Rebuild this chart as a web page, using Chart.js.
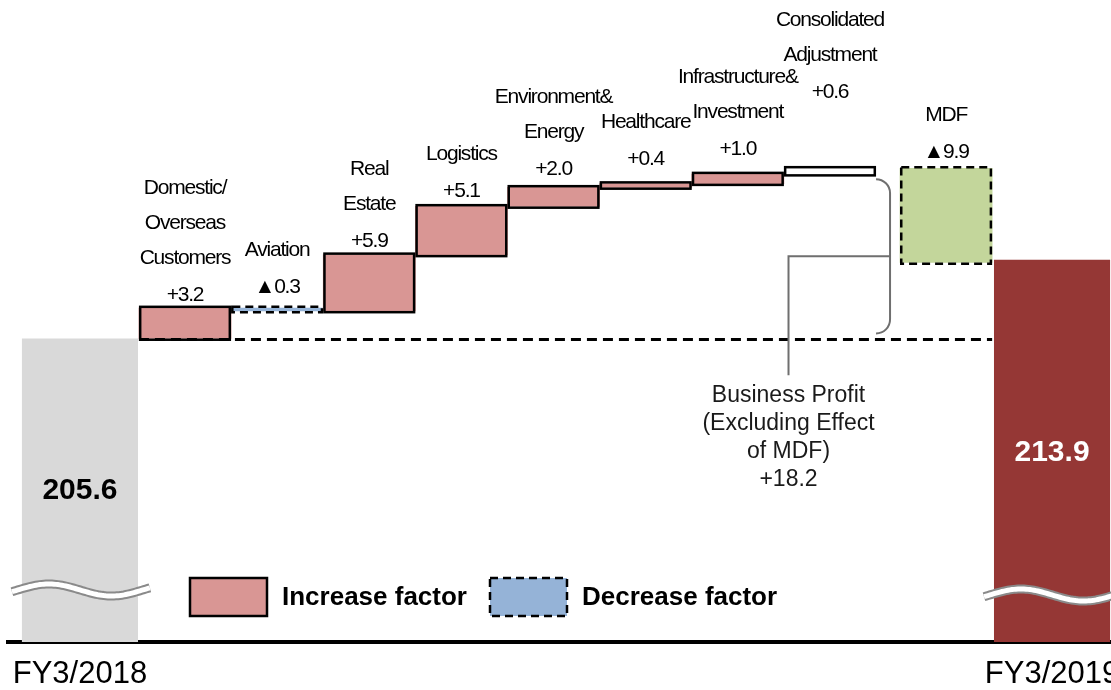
<!DOCTYPE html>
<html>
<head>
<meta charset="utf-8">
<script src="https://cdn.jsdelivr.net/npm/chart.js@4.4.1/dist/chart.umd.min.js"></script>
<style>
  html, body { margin: 0; padding: 0; background: #fff; }
  #wrap { width: 1111px; height: 690px; }
</style>
</head>
<body>
<div id="wrap"><canvas id="chart"></canvas></div>
<script>
// values
const periodLabels = ['FY3/2018', 'FY3/2019'];
const periodValues = [205.6, 213.9];
const factorNames = [
  ['Domestic/', 'Overseas', 'Customers'],
  ['Aviation'],
  ['Real', 'Estate'],
  ['Logistics'],
  ['Environment&', 'Energy'],
  ['Healthcare'],
  ['Infrastructure&', 'Investment'],
  ['Consolidated', 'Adjustment'],
  ['MDF']
];
const factorChanges = [3.2, -0.3, 5.9, 5.1, 2.0, 0.4, 1.0, 0.6, -9.9];
const subtotalLines = ['Business Profit', '(Excluding Effect', 'of MDF)'];
const subtotalChange = 18.2;
const legendLabels = ['Increase factor', 'Decrease factor'];

// layout (x in bar widths, lifts in px)
const periodX = [-0.14, 10.41];
const factorX = [1, 2, 3, 4, 5, 6, 7, 8, 9.26];
const labelLift = [13, 21, 14, 15, 18, 24, 25, 76, 16];
const FONT = '"Liberation Sans", Arial, sans-serif';

let running = periodValues[0];
const factorBars = factorChanges.map((d, i) => {
  const from = running;
  running = Math.round((running + d) * 10) / 10;
  return { x: factorX[i], y: [from, running] };
});

function fillFor(i) {
  const name = factorNames[i][0];
  if (name === 'MDF') return '#c3d69b';
  if (name === 'Consolidated') return '#ffffff';
  return factorChanges[i] < 0 ? '#95b3d7' : '#d99694';
}

function fmt(d) {
  return (d < 0 ? '\u25B2' : '+') + Math.abs(d).toFixed(1);
}

function box(el) {
  const p = el.getProps(['x', 'y', 'base', 'width'], true);
  return {
    left: p.x - p.width / 2, right: p.x + p.width / 2, cx: p.x,
    top: Math.min(p.y, p.base), bottom: Math.max(p.y, p.base)
  };
}

const overlay = {
  id: 'overlay',
  afterDatasetsDraw(chart) {
    const ctx = chart.ctx;
    const y = chart.scales.y;
    const x = chart.scales.x;
    const totals = chart.getDatasetMeta(0).data;
    const bars = chart.getDatasetMeta(1).data;
    ctx.save();

    // outlines of the factor bars: solid for increases, dashed for decreases
    ctx.strokeStyle = '#000';
    ctx.lineWidth = 2.5;
    bars.forEach((el, i) => {
      const b = box(el);
      ctx.setLineDash(factorChanges[i] < 0 ? [8, 5] : []);
      ctx.strokeRect(b.left + 1.25, b.top - 1.25, b.right - b.left - 2.5, b.bottom - b.top + 2.5);
    });

    // starting level
    const base = y.getPixelForValue(periodValues[0]);
    const first = box(bars[0]);
    const last = box(bars[bars.length - 1]);
    ctx.setLineDash([10, 6]);
    ctx.lineWidth = 3;
    ctx.beginPath();
    ctx.moveTo(first.left, base + 1);
    ctx.lineTo(last.right, base + 1);
    ctx.stroke();

    // bracket round the business factors
    const adj = box(bars[7]);
    const bx = adj.right + 14, top = adj.bottom + 5, bot = base - 5, r = 14;
    ctx.setLineDash([]);
    ctx.strokeStyle = '#6f6f6f';
    ctx.lineWidth = 2;
    ctx.beginPath();
    ctx.moveTo(adj.right, top);
    ctx.arcTo(bx, top, bx, bot, r);
    ctx.arcTo(bx, bot, adj.right, bot, r);
    ctx.lineTo(adj.right, bot);
    ctx.stroke();
    const mid = (top + bot) / 2;
    const lx = x.getPixelForValue(7.55);
    ctx.beginPath();
    ctx.moveTo(bx, mid);
    ctx.lineTo(lx, mid);
    ctx.lineTo(lx, mid + 119);
    ctx.stroke();

    ctx.fillStyle = '#1a1a1a';
    ctx.font = '23px ' + FONT;
    ctx.textAlign = 'center';
    ctx.textBaseline = 'middle';
    subtotalLines.concat(['+' + subtotalChange.toFixed(1)]).forEach((t, j) => {
      ctx.fillText(t, lx, mid + 139 + j * 28);
    });

    // factor names and values
    ctx.fillStyle = '#000';
    ctx.font = '21px ' + FONT;
    ctx.letterSpacing = '-1.2px';
    bars.forEach((el, i) => {
      const b = box(el);
      const vy = b.top - labelLift[i];
      ctx.fillText(fmt(factorChanges[i]), b.cx, vy);
      const names = factorNames[i];
      names.forEach((t, j) => {
        ctx.fillText(t, b.cx, vy - 37 - (names.length - 1 - j) * 35);
      });
    });
    ctx.letterSpacing = '0px';

    // period totals and axis break marks
    const totalDrop = [152, 193];
    const waveY = [590, 595];
    totals.forEach((el, i) => {
      const b = box(el);
      ctx.font = 'bold 30px ' + FONT;
      ctx.fillStyle = i ? '#fff' : '#000';
      ctx.fillText(periodValues[i].toFixed(1), b.cx, b.top + totalDrop[i]);

      ctx.beginPath();
      for (let px = b.left - 10; px <= b.right + 12; px += 2) {
        const py = waveY[i] - 6 * Math.cos(2 * Math.PI * (px - b.left - 27) / 125);
        if (px === b.left - 10) ctx.moveTo(px, py); else ctx.lineTo(px, py);
      }
      ctx.strokeStyle = '#8a8a8a';
      ctx.lineWidth = 9;
      ctx.stroke();
      ctx.strokeStyle = '#fff';
      ctx.lineWidth = 5;
      ctx.stroke();
    });

    // legend
    const lg = [
      { x: 190, fill: '#d99694', dash: [] },
      { x: 490, fill: '#95b3d7', dash: [8, 5] }
    ];
    lg.forEach((g, i) => {
      ctx.fillStyle = g.fill;
      ctx.fillRect(g.x, 578, 77, 38);
      ctx.setLineDash(g.dash);
      ctx.strokeStyle = '#000';
      ctx.lineWidth = 2.5;
      ctx.strokeRect(g.x, 578, 77, 38);
      ctx.setLineDash([]);
      ctx.fillStyle = '#000';
      ctx.font = 'bold 26px ' + FONT;
      ctx.textAlign = 'left';
      ctx.fillText(legendLabels[i], g.x + 92, 598);
      ctx.textAlign = 'center';
    });

    ctx.restore();
  }
};

new Chart(document.getElementById('chart'), {
  type: 'bar',
  data: {
    datasets: [
      {
        data: periodValues.map((v, i) => ({ x: periodX[i], y: v })),
        backgroundColor: ['#d9d9d9', '#953735'],
        borderWidth: 0,
        barPercentage: 1.26,
        categoryPercentage: 1,
        grouped: false
      },
      {
        data: factorBars,
        backgroundColor: c => fillFor(c.dataIndex),
        borderWidth: 0,
        barPercentage: 1,
        categoryPercentage: 1,
        grouped: false
      }
    ]
  },
  options: {
    responsive: true,
    maintainAspectRatio: false,
    animation: false,
    layout: { padding: { left: 8, right: 0, top: 0, bottom: 0 } },
    plugins: { legend: { display: false }, tooltip: { enabled: false } },
    scales: {
      x: {
        type: 'linear',
        min: -0.921,
        max: 11.05,
        offset: false,
        grid: { display: false, drawTicks: false },
        border: { display: true, color: '#000', width: 4 },
        afterBuildTicks: s => { s.ticks = periodX.map(v => ({ value: v })); },
        afterFit: s => { s.height = 48; s.paddingLeft = 0; s.paddingRight = 0; },
        ticks: {
          autoSkip: false,
          maxRotation: 0,
          padding: 14,
          color: '#000',
          font: { size: 31, family: FONT },
          callback: (v, i) => periodLabels[i]
        }
      },
      y: {
        display: false,
        min: 173.65,
        max: 241.23
      }
    }
  },
  plugins: [overlay]
});
</script>
</body>
</html>
